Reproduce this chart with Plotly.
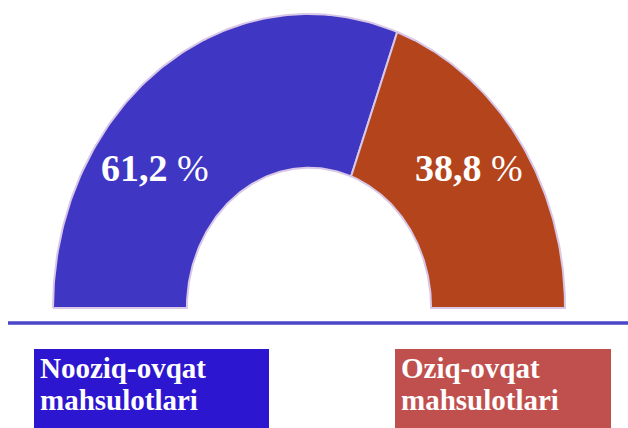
import numpy as np
import plotly.graph_objects as go

# ---- data ----
categories = ["Nooziq-ovqat mahsulotlari", "Oziq-ovqat mahsulotlari"]
label_lines = [["Nooziq-ovqat", "mahsulotlari"], ["Oziq-ovqat", "mahsulotlari"]]
shares = [61.2, 38.8]
share_text = ["61,2", "38,8"]

slice_colors = ["#3F37C3", "#B3441C"]
box_colors = ["#2D16CF", "#C0504D"]
hole = 0.477

fig = go.Figure()

# build half-donut slices from data (start at left, go clockwise over the top)
total = sum(shares)
start = 180.0
for val, col, name in zip(shares, slice_colors, categories):
    span = 180.0 * val / total
    end = start - span
    t_out = np.radians(np.linspace(start, end, 120))
    t_in = np.radians(np.linspace(end, start, 120))
    xs = np.concatenate([np.cos(t_out), hole * np.cos(t_in), [np.cos(t_out[0])]])
    ys = np.concatenate([np.sin(t_out), hole * np.sin(t_in), [np.sin(t_out[0])]])
    fig.add_trace(go.Scatter(
        x=xs, y=ys, mode="lines", fill="toself", fillcolor=col,
        line=dict(color="#D9C7E7", width=2), name=name, hoverinfo="name",
        showlegend=False))
    start = end

# baseline
fig.add_shape(type="line", xref="paper", yref="paper",
              x0=8 / 628, x1=1.0, y0=1 - 323 / 428, y1=1 - 323 / 428,
              line=dict(color="#4A46C9", width=3.5))

# category boxes
box_x = [(34, 269), (395, 611)]
text_x = [38, 399]
for (bx0, bx1), bc, tx, lines in zip(box_x, box_colors, text_x, label_lines):
    fig.add_shape(type="rect", xref="paper", yref="paper",
                  x0=bx0 / 628, x1=bx1 / 628, y0=0, y1=1 - 349 / 428,
                  fillcolor=bc, line=dict(width=0), layer="below")
    for ln, yc in zip(lines, [368, 400]):
        fig.add_annotation(x=tx / 628, y=1 - yc / 428, xref="paper", yref="paper",
                           xanchor="left", yanchor="middle", showarrow=False,
                           text="<b>" + ln + "</b>",
                           font=dict(family="Liberation Serif", size=29, color="white"))

# percentage labels
pct_x = [155, 469]
for px, t in zip(pct_x, share_text):
    fig.add_annotation(x=px / 628, y=1 - 168 / 428, xref="paper", yref="paper",
                       xanchor="center", yanchor="middle", showarrow=False,
                       text="<b>" + t + "</b> %",
                       font=dict(family="Liberation Serif", size=38, color="white"))

fig.update_xaxes(visible=False, range=[-309 / 256, (628 - 309) / 256], fixedrange=True)
fig.update_yaxes(visible=False, range=[-(428 - 308) / 294, 308 / 294], fixedrange=True)
fig.update_layout(width=628, height=428, margin=dict(l=0, r=0, t=0, b=0),
                  paper_bgcolor="white", plot_bgcolor="white", showlegend=False)

fig.write_html("out.html", config={"displayModeBar": False},
               post_script="document.body.style.margin='0';document.body.style.overflow='hidden';")
